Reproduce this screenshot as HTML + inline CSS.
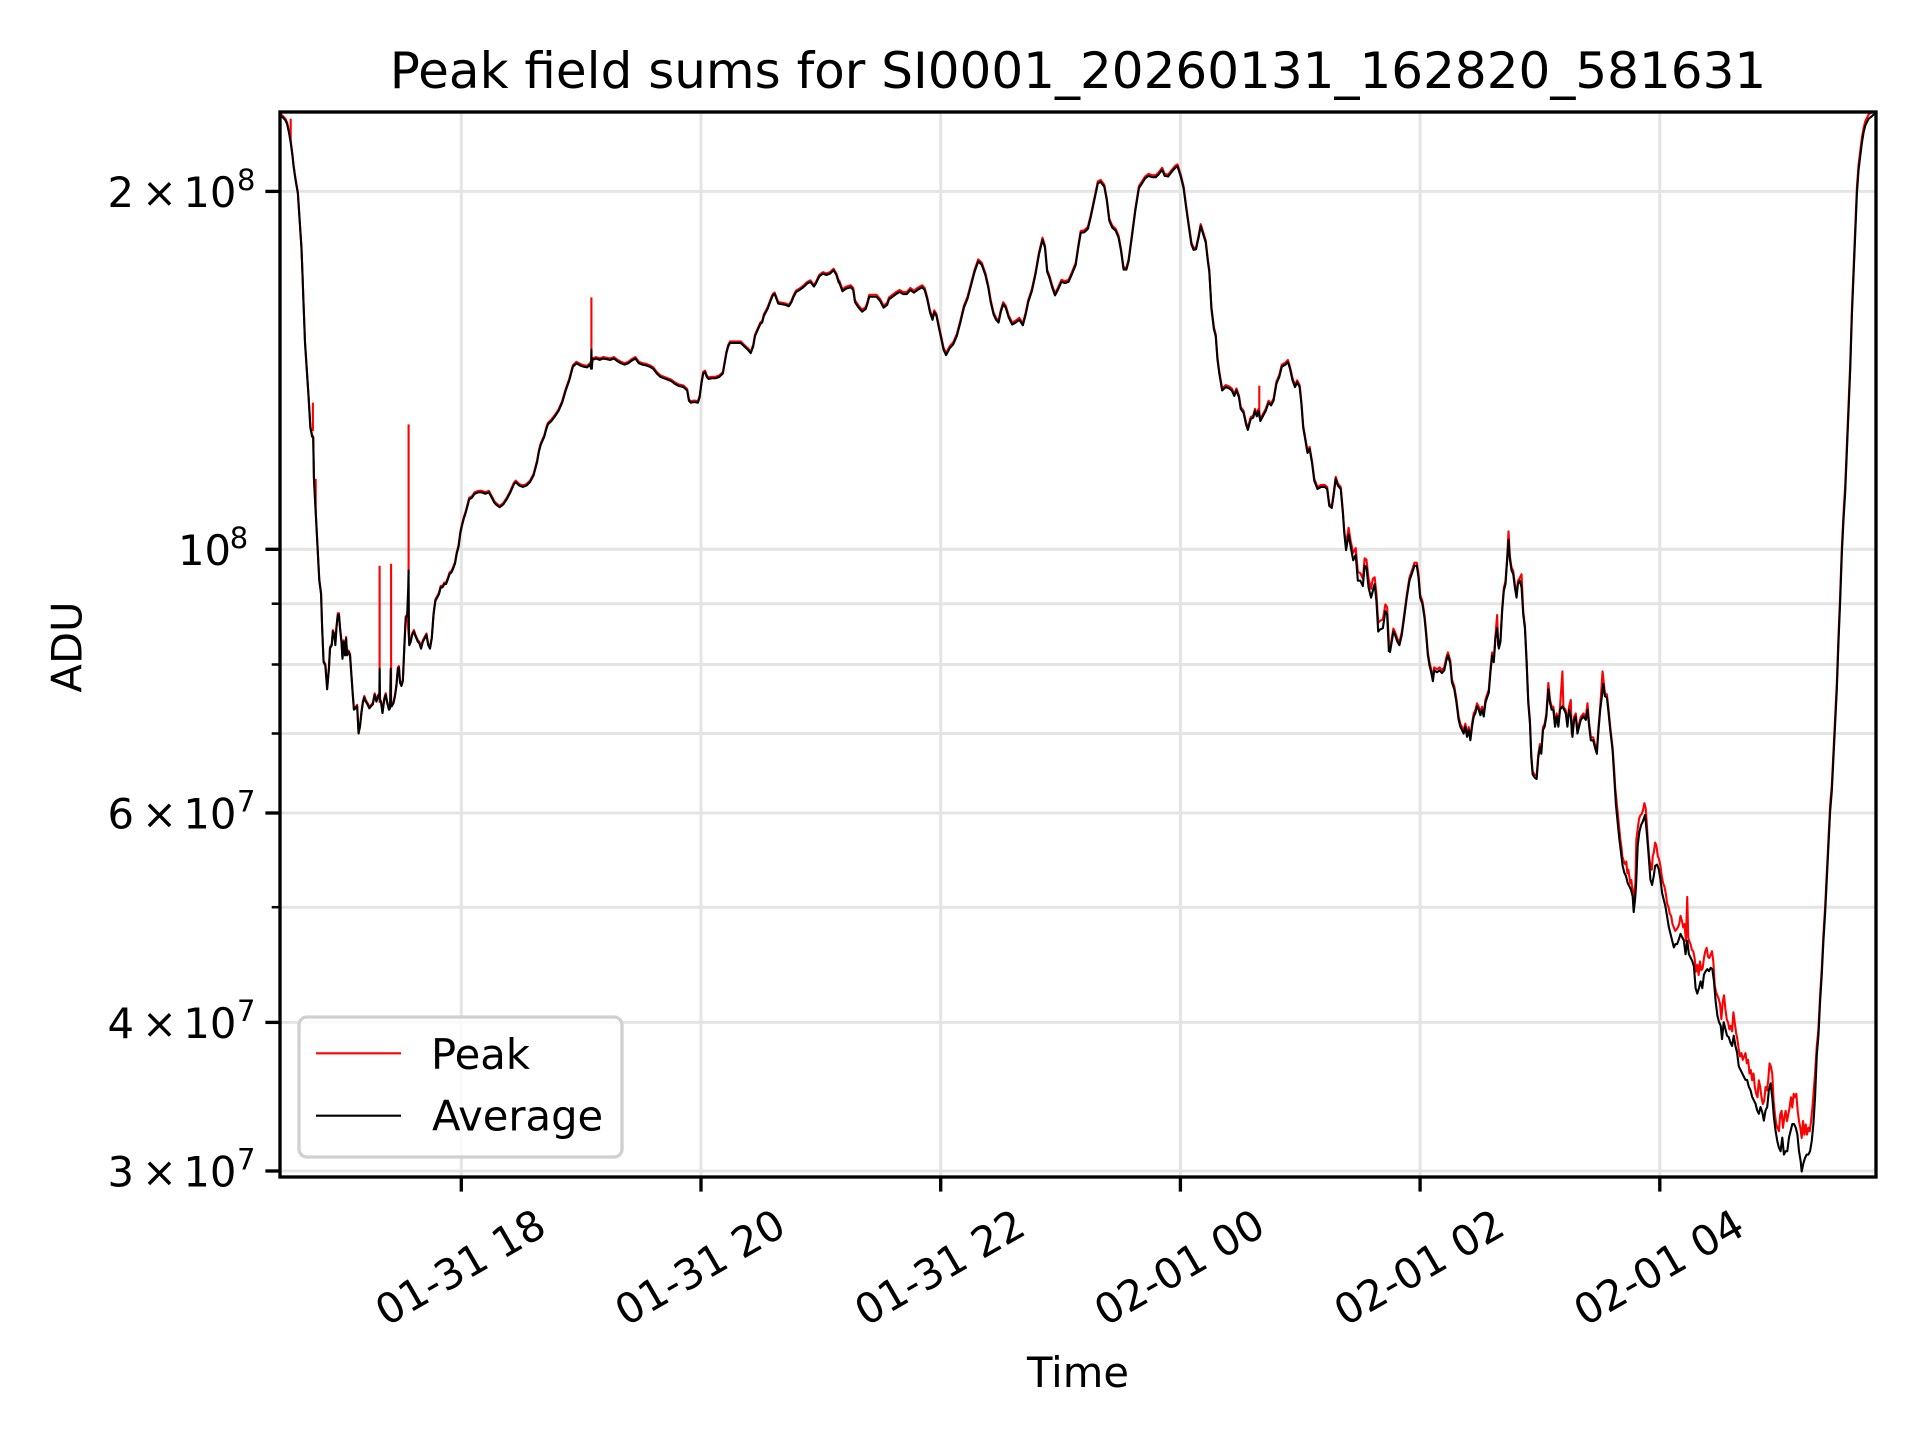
<!DOCTYPE html>
<html>
<head>
<meta charset="utf-8">
<style>
  html,body{margin:0;padding:0;background:#fff;}
  svg{display:block;}
  text{font-family:"DejaVu Sans","Liberation Sans",sans-serif;fill:#000;}
</style>
</head>
<body>
<svg width="1920" height="1440" viewBox="0 0 1920 1440" xmlns="http://www.w3.org/2000/svg">
  <defs>
    <clipPath id="ax"><rect x="280" y="112" width="1596" height="1065"/></clipPath>
  </defs>
  <rect x="0" y="0" width="1920" height="1440" fill="#fff"/>

  <!-- grid -->
  <g stroke="#e4e4e4" stroke-width="3" fill="none">
    <line x1="461.3" y1="112" x2="461.3" y2="1177"/>
    <line x1="701" y1="112" x2="701" y2="1177"/>
    <line x1="940.7" y1="112" x2="940.7" y2="1177"/>
    <line x1="1180.4" y1="112" x2="1180.4" y2="1177"/>
    <line x1="1420.1" y1="112" x2="1420.1" y2="1177"/>
    <line x1="1659.8" y1="112" x2="1659.8" y2="1177"/>
    <line x1="280" y1="191.4" x2="1876" y2="191.4"/>
    <line x1="280" y1="549.3" x2="1876" y2="549.3"/>
    <line x1="280" y1="603.7" x2="1876" y2="603.7"/>
    <line x1="280" y1="664.5" x2="1876" y2="664.5"/>
    <line x1="280" y1="733.5" x2="1876" y2="733.5"/>
    <line x1="280" y1="813" x2="1876" y2="813"/>
    <line x1="280" y1="907.2" x2="1876" y2="907.2"/>
    <line x1="280" y1="1022.4" x2="1876" y2="1022.4"/>
    <line x1="280" y1="1171" x2="1876" y2="1171"/>
  </g>

  <g clip-path="url(#ax)" fill="none" stroke-linejoin="round">
    <!-- PEAK (red) -->
    <g stroke="#ff0000" stroke-width="2.1">
      <g transform="translate(280,110.5) scale(0.357143,0.679209)">
        <polyline vector-effect="non-scaling-stroke" points="0,5 8,8 15,12 20,18 25,30 30,45 35,65 38,80 42,95 45,105 50,120 55,160 60,200 63,240 65,270 70,340 75,380 80,420 85,465 90,478 93,480 95,540 100,590 105,640 110,690 115,710 118,760 122,810 127,815 132,850 137,820 140,790 145,785 148,765 152,770 155,785 158,760 162,740 165,740 168,760 172,780 175,805 178,780 182,800 185,775 188,800 192,795 196,800 200,830 204,860 207,880 212,878 216,875 220,915 224,905 228,885 232,870 236,862 240,868 245,872 250,878 255,875 260,872 265,858 270,868 275,860 283,870 287,885 292,865 296,858 300,870 305,880 313,875 318,870 322,860 326,845 330,820 333,818 336,840 340,845 344,838 348,790 352,745 356,742 362,785 366,780 370,770 375,765 378,770 382,775 386,780 390,782 395,790 400,780 405,775 410,770 415,785 420,790 425,775 430,740 435,720 440,715 445,710 450,700 455,700 460,695 465,695 470,688 475,680 480,678 485,672 490,665 495,650 500,640 505,620 510,608 515,598 520,590 525,580 530,570 537,568 545,562 555,560 565,560 575,562 585,560 590,565 595,570 600,575 605,578 615,582 625,578 635,570 645,560 655,548 660,545 670,550 680,552 690,550 700,545 710,535 715,525 720,515 725,500 730,490 740,478 745,468 750,460 760,455 770,448 780,440 790,428 800,410 810,395 820,375 830,370 840,373 850,375 860,376 868,372 875,365 885,363 895,365 905,363 915,364 925,365 935,363 945,367 955,370 965,372 975,370 985,366 995,363 1005,370 1015,372 1025,373 1035,375 1045,378 1055,385 1065,390 1080,393 1095,396 1105,400 1115,403 1130,405 1140,410 1145,425 1150,428 1160,427 1170,428 1175,420 1180,400 1185,385 1190,383 1195,390 1200,393 1210,392 1220,392 1230,390 1240,385 1245,370 1250,355 1255,345 1260,340 1270,340 1280,340 1290,340 1300,345 1310,350 1318,355 1325,345 1330,330 1340,318 1345,312 1350,310 1355,300 1360,295 1365,290 1370,283 1375,276 1380,270 1385,268 1390,275 1395,282 1405,283 1415,284 1425,286 1432,280 1438,272 1445,265 1455,262 1465,258 1475,253 1485,250 1495,257 1500,253 1510,242 1520,238 1530,240 1540,238 1550,233 1558,240 1565,252"/>
      </g>
      <g transform="translate(830,110) scale(0.357143,0.679209)">
        <polyline vector-effect="non-scaling-stroke" points="25,250 35,264 45,260 58,258 65,262 70,280 80,288 90,294 100,290 105,282 110,272 120,272 130,272 140,278 150,288 160,284 165,276 175,272 185,268 195,265 205,268 215,268 225,262 235,266 245,262 258,258 265,262 272,275 280,295 287,306 292,295 298,300 305,318 312,335 318,350 325,358 335,348 345,342 355,330 365,310 375,288 385,275 395,255 405,235 415,220 425,225 435,240 443,258 450,280 458,298 465,306 472,310 478,295 485,283 492,288 500,302 510,313 520,310 530,306 540,314 548,298 555,280 565,264 575,240 585,210 595,188 602,200 608,235 615,245 622,258 630,270 638,262 648,250 658,252 668,250 678,238 688,225 695,200 702,178 712,177 722,172 730,155 740,130 750,105 758,103 768,110 775,130 782,160 790,170 800,175 808,185 815,205 822,232 830,232 836,220 845,185 855,145 865,112 875,104 882,98 892,94 902,96 912,96 920,92 930,85 937,94 947,95 957,88 967,82 973,80 982,95 990,112 997,140 1005,170 1012,195 1018,203 1025,202 1032,185 1038,168 1045,180 1052,192 1058,220 1062,235 1068,290 1075,320 1080,330 1085,365 1090,385 1098,410 1108,405 1118,407 1125,410 1132,418 1138,410 1145,420 1150,437 1158,443 1165,460 1170,468 1178,452 1185,450 1190,440 1195,448 1200,440 1205,455 1212,448 1220,440 1228,428 1235,432 1242,425 1250,400 1258,390 1265,375 1275,372 1282,368 1288,378 1295,395 1302,405 1308,398 1315,405 1320,430 1325,465 1330,480 1337,502 1343,496 1350,518 1356,543 1365,555 1375,552 1385,552 1392,555 1398,580 1405,583 1410,565 1416,540 1422,550 1430,555 1436,590 1440,620 1445,640 1452,615 1458,635 1465,652 1472,645 1478,680 1485,682 1492,690 1497,660 1502,662 1508,690 1515,705 1520,690 1525,688 1530,712 1535,755 1540,752 1548,750 1555,728 1560,732 1565,785"/>
      </g>
      <g transform="translate(1380,109) scale(0.334672,0.679209)">
        <polyline vector-effect="non-scaling-stroke" points="27,788 30,795 35,780 40,765 45,770 52,780 58,785 65,770 72,745 80,715 88,690 95,680 103,668 110,668 115,685 120,715 127,725 133,745 138,770 143,800 148,815 153,825 158,838 162,822 170,825 178,822 185,826 192,822 198,808 203,800 210,812 215,840 222,850 228,868 235,895 240,905 245,910 250,915 255,905 260,920 265,910 270,925 275,905 280,890 285,885 290,875 295,880 300,888 305,880 310,890 315,870 320,862 325,855 330,825 335,800 340,810 345,775 350,745 353,790 360,780 365,735 370,705 375,695 380,660 384,622 388,658 393,675 398,680 403,700 408,715 412,695 418,690 423,685 428,740 433,760 438,810 443,870 448,900 452,950 456,975 462,980 468,982 473,950 478,935 482,945 487,910 492,905 497,890 503,845 508,870 513,880 518,880 523,905 528,890 533,905 538,880 545,828 548,880 555,885 560,905 565,880 570,870 573,920 580,895 585,890 590,915 595,905 600,895 608,890 615,895 620,875 625,905 630,925 637,925 642,935 648,945 652,915 658,880 665,828 672,860 678,862 683,885 688,910 695,940 700,975"/>
        <polyline vector-effect="non-scaling-stroke" points="700,975 703,1000 706,1015 709,1030 712,1045 715,1060 718,1075 721,1085 724,1100 727,1105 730,1110 733,1112 736,1108 739,1125 742,1120 745,1130 748,1140 751,1135 754,1150 757,1165 760,1150 763,1140 766,1075 770,1060 774,1045 778,1040 782,1038 786,1032 790,1022 794,1030 797,1050 800,1075 804,1100 808,1115 812,1120 815,1100 818,1095 822,1080 826,1085 830,1100 834,1105 838,1115 842,1130 846,1140 850,1145 854,1155 858,1170 862,1175 866,1185 870,1188 874,1200 878,1205 882,1210 886,1208 890,1205 894,1200 898,1188 902,1195 906,1205 910,1200 914,1225 918,1160 921,1220 924,1225 928,1230 932,1238 936,1240 940,1250 944,1270 948,1260 952,1275 956,1255 960,1268 964,1265 968,1250 972,1240 976,1235 980,1248 984,1250 988,1245 992,1240 996,1255 1000,1290 1004,1300 1008,1305 1012,1310 1016,1318 1020,1340 1024,1315 1028,1305 1032,1325 1036,1340 1040,1345 1044,1355 1048,1350 1052,1358 1056,1330 1060,1345 1064,1360 1068,1370 1072,1385 1076,1395 1080,1390 1084,1400 1088,1395 1092,1390 1096,1405 1100,1400 1104,1420 1108,1415 1112,1430 1116,1420 1120,1440 1124,1450 1128,1455 1132,1430 1136,1440 1140,1455 1144,1465 1148,1460 1152,1440 1156,1445 1160,1430 1164,1405 1168,1410 1172,1420 1176,1460 1180,1480 1184,1495 1188,1500 1192,1505 1196,1480 1200,1475 1204,1500 1208,1485 1212,1475 1216,1490 1220,1480 1224,1470 1228,1455 1232,1470 1236,1450 1240,1455 1244,1450 1248,1475 1252,1490 1256,1500 1260,1515 1264,1490 1268,1510 1272,1495 1276,1510 1280,1500 1284,1505 1288,1490 1292,1470 1296,1445 1300,1420 1305,1380 1310,1355 1315,1305 1320,1265 1325,1215 1330,1175 1335,1125 1340,1075 1345,1025 1350,995 1355,945 1360,895 1365,845 1370,775 1375,715 1380,645 1385,595 1390,555 1395,495 1400,435 1405,375 1410,295 1415,235 1420,175 1425,115 1430,82 1435,62 1440,42 1445,28 1450,18 1460,8 1475,3 1494,1"/>
      </g>
      <!-- spikes -->
      <line x1="290.7" y1="118.8" x2="290.7" y2="142.6"/>
      <line x1="312.9" y1="402.7" x2="312.9" y2="431"/>
      <line x1="315.7" y1="478.8" x2="315.7" y2="512.7"/>
      <line x1="379.6" y1="565.7" x2="379.6" y2="702.9"/>
      <line x1="391.1" y1="563.7" x2="391.1" y2="706.3"/>
      <line x1="408.6" y1="424.4" x2="408.6" y2="573.8"/>
      <line x1="591.4" y1="297.4" x2="591.4" y2="360"/>
      <line x1="1259.3" y1="385.7" x2="1259.3" y2="417.6"/>
    </g>

    <!-- AVERAGE (black) -->
    <g stroke="#000000" stroke-width="2.1">
      <g transform="translate(280,112) scale(0.357143,0.679209)">
        <polyline vector-effect="non-scaling-stroke" points="0,5 8,8 15,12 20,18 25,30 30,45 35,65 38,80 42,95 45,105 50,120 55,160 60,200 63,240 65,270 70,340 75,380 80,420 85,465 90,478 93,480 95,540 100,590 105,640 110,690 115,710 118,760 122,810 127,815 132,850 137,820 140,790 145,785 148,765 152,770 155,785 158,760 162,740 165,740 168,760 172,780 175,805 178,780 182,800 185,775 188,800 192,795 196,800 200,830 204,860 207,880 212,878 216,875 220,915 224,905 228,885 232,870 236,862 240,868 245,872 250,878 255,875 260,872 265,858 270,868 275,860 278,862 279,820 280,865 283,870 287,885 292,865 296,858 300,870 305,880 308,878 310,820 311,875 313,875 318,870 322,860 326,845 330,820 333,818 336,840 340,845 344,838 348,790 352,745 356,742 359,700 360,675 361,760 362,785 366,780 370,770 375,765 378,770 382,775 386,780 390,782 395,790 400,780 405,775 410,770 415,785 420,790 425,775 430,740 435,720 440,715 445,710 450,700 455,700 460,695 465,695 470,688 475,680 480,678 485,672 490,665 495,650 500,640 505,620 510,608 515,598 520,590 525,580 530,570 537,568 545,562 555,560 565,560 575,562 585,560 590,565 595,570 600,575 605,578 615,582 625,578 635,570 645,560 655,548 660,545 670,550 680,552 690,550 700,545 710,535 715,525 720,515 725,500 730,490 740,478 745,468 750,460 760,455 770,448 780,440 790,428 800,410 810,395 820,375 830,370 840,373 850,375 860,376 868,372 871,378 872,350 873,378 875,365 885,363 895,365 905,363 915,364 925,365 935,363 945,367 955,370 965,372 975,370 985,366 995,363 1005,370 1015,372 1025,373 1035,375 1045,378 1055,385 1065,390 1080,393 1095,396 1105,400 1115,403 1130,405 1140,410 1145,425 1150,428 1160,427 1170,428 1175,420 1180,400 1185,385 1190,383 1195,390 1200,393 1210,392 1220,392 1230,390 1240,385 1245,370 1250,355 1255,345 1260,340 1270,340 1280,340 1290,340 1300,345 1310,350 1318,355 1325,345 1330,330 1340,318 1345,312 1350,310 1355,300 1360,295 1365,290 1370,283 1375,276 1380,270 1385,268 1390,275 1395,282 1405,283 1415,284 1425,286 1432,280 1438,272 1445,265 1455,262 1465,258 1475,253 1485,250 1495,257 1500,253 1510,242 1520,238 1530,240 1540,238 1550,233 1558,240 1565,252"/>
      </g>
      <g transform="translate(830,112) scale(0.357143,0.679209)">
        <polyline vector-effect="non-scaling-stroke" points="25,250 35,264 45,260 58,258 65,262 70,280 80,288 90,294 100,290 105,282 110,272 120,272 130,272 140,278 150,288 160,284 165,276 175,272 185,268 195,265 205,268 215,268 225,262 235,266 245,262 258,258 265,262 272,275 280,295 287,306 292,295 298,300 305,318 312,335 318,350 325,358 335,348 345,342 355,330 365,310 375,288 385,275 395,255 405,235 415,220 425,225 435,240 443,258 450,280 458,298 465,306 472,310 478,295 485,283 492,288 500,302 510,313 520,310 530,306 540,314 548,298 555,280 565,264 575,240 585,210 595,188 602,200 608,235 615,245 622,258 630,270 638,262 648,250 658,252 668,250 678,238 688,225 695,200 702,178 712,177 722,172 730,155 740,130 750,105 758,103 768,110 775,130 782,160 790,170 800,175 808,185 815,205 822,232 830,232 836,220 845,185 855,145 865,112 875,104 882,98 892,94 902,96 912,96 920,92 930,85 937,94 947,95 957,88 967,82 973,80 982,95 990,112 997,140 1005,170 1012,195 1018,203 1025,202 1032,185 1038,168 1045,180 1052,192 1058,220 1062,235 1068,290 1075,320 1080,330 1085,365 1090,385 1098,410 1108,405 1118,407 1125,410 1132,418 1138,410 1145,420 1150,437 1158,443 1165,460 1170,468 1178,452 1185,450 1190,440 1195,448 1200,440 1205,455 1212,448 1220,440 1228,428 1235,432 1242,425 1250,400 1258,390 1265,375 1275,372 1282,368 1288,378 1295,395 1302,405 1308,398 1315,405 1320,430 1325,465 1330,480 1337,502 1343,496 1350,518 1356,543 1365,555 1375,552 1385,552 1392,555 1398,580 1405,583 1410,565 1416,540 1422,550 1430,555 1436,590 1440,620 1445,645 1452,622 1458,640 1465,660 1472,652 1478,690 1485,690 1492,698 1497,668 1502,670 1508,700 1515,715 1520,705 1525,695 1530,720 1535,765 1540,762 1548,760 1555,735 1560,740 1565,795"/>
      </g>
      <g transform="translate(1380,112) scale(0.334672,0.679209)">
        <polyline vector-effect="non-scaling-stroke" points="27,788 30,795 35,780 40,765 45,770 52,780 58,785 65,770 72,745 80,715 88,690 95,680 103,668 110,668 115,685 120,715 127,725 133,745 138,770 143,800 148,815 153,825 158,838 162,822 170,825 178,822 185,826 192,822 198,808 203,800 210,812 215,840 222,850 228,868 235,895 240,905 245,910 250,915 255,905 260,920 265,910 270,925 275,905 280,890 285,885 290,875 295,880 300,888 305,880 310,890 315,870 320,862 325,855 330,825 335,800 340,810 345,775 350,760 355,790 360,780 365,735 370,705 375,695 380,660 384,630 388,658 393,675 398,680 403,700 408,715 412,695 418,690 423,700 428,740 433,760 438,810 443,870 448,900 452,950 456,975 462,980 468,982 473,950 478,935 482,945 487,910 492,905 497,890 503,850 508,870 513,880 518,880 523,905 528,890 533,905 538,880 545,875 550,880 555,885 560,905 565,880 570,890 575,920 580,895 585,890 590,915 595,905 600,895 608,890 615,895 620,880 625,905 630,925 637,925 642,935 648,945 652,915 658,880 663,860 667,842 672,860 678,862 683,885 688,910 695,940 700,980 705,1020 710,1045 715,1070 720,1090 725,1110 730,1120 735,1125 740,1135 745,1140 750,1145 755,1155 758,1178 762,1160 765,1140 770,1080 775,1060 780,1050 785,1045 792,1035 797,1060 802,1090 808,1130 813,1138 818,1125 822,1110 828,1108 833,1115 838,1130 843,1150 848,1160 853,1170 858,1185 863,1200 868,1210 873,1220 878,1230 883,1225 888,1225 893,1218 898,1210 903,1215 908,1220 913,1240 918,1220 923,1240 928,1245 933,1250 938,1258 943,1290 948,1298 953,1290 958,1280 963,1290 968,1270 973,1265 978,1262 983,1265 988,1260 993,1262 998,1280 1003,1310 1008,1330 1013,1340 1018,1345 1022,1365 1027,1340 1032,1350 1037,1360 1042,1362 1047,1370 1052,1375 1057,1360 1062,1375 1067,1385 1072,1405 1077,1410 1082,1415 1087,1420 1092,1425 1097,1425 1102,1435 1107,1440 1112,1450 1117,1455 1122,1460 1127,1470 1132,1475 1137,1465 1142,1472 1147,1485 1152,1470 1157,1465 1162,1440 1167,1430 1172,1450 1177,1480 1182,1500 1187,1515 1192,1525 1197,1530 1202,1510 1207,1535 1212,1530 1217,1530 1222,1510 1227,1500 1232,1490 1237,1490 1242,1495 1247,1505 1252,1530 1257,1545 1260,1560 1265,1548 1270,1540 1275,1535 1280,1535 1285,1530 1290,1515 1295,1490 1300,1450 1305,1390 1310,1360 1315,1310 1320,1270 1325,1220 1330,1180 1335,1130 1340,1080 1345,1030 1350,1000 1355,950 1360,900 1365,850 1370,780 1375,720 1380,650 1385,600 1390,560 1395,500 1400,440 1405,380 1410,300 1415,240 1420,180 1425,120 1430,85 1435,65 1440,45 1445,30 1450,20 1460,10 1475,4 1494,2"/>
      </g>
    </g>
  </g>

  <!-- legend -->
  <rect x="299" y="1017" width="323" height="140" rx="8" ry="8" fill="#ffffff" fill-opacity="0.8" stroke="#d0d0d0" stroke-width="3.3"/>
  <line x1="316" y1="1053.3" x2="401" y2="1053.3" stroke="#ff0000" stroke-width="2.1"/>
  <line x1="316" y1="1115.7" x2="401" y2="1115.7" stroke="#000000" stroke-width="2.1"/>
  <text x="431" y="1069" font-size="41.7">Peak</text>
  <text x="432" y="1130.5" font-size="41.7">Average</text>

  <!-- axes frame -->
  <rect x="280" y="112" width="1596" height="1065" fill="none" stroke="#000" stroke-width="3.33"/>

  <!-- y ticks -->
  <g stroke="#000" stroke-width="3.33">
    <line x1="265.4" y1="191.4" x2="280" y2="191.4"/>
    <line x1="265.4" y1="549.3" x2="280" y2="549.3"/>
    <line x1="265.4" y1="813" x2="280" y2="813"/>
    <line x1="265.4" y1="1022.4" x2="280" y2="1022.4"/>
    <line x1="265.4" y1="1171" x2="280" y2="1171"/>
  </g>
  <g stroke="#000" stroke-width="2.5">
    <line x1="271.7" y1="603.7" x2="280" y2="603.7"/>
    <line x1="271.7" y1="664.5" x2="280" y2="664.5"/>
    <line x1="271.7" y1="733.5" x2="280" y2="733.5"/>
    <line x1="271.7" y1="907.2" x2="280" y2="907.2"/>
  </g>
  <!-- x ticks -->
  <g stroke="#000" stroke-width="3.33">
    <line x1="461.3" y1="1177" x2="461.3" y2="1191.6"/>
    <line x1="701" y1="1177" x2="701" y2="1191.6"/>
    <line x1="940.7" y1="1177" x2="940.7" y2="1191.6"/>
    <line x1="1180.4" y1="1177" x2="1180.4" y2="1191.6"/>
    <line x1="1420.1" y1="1177" x2="1420.1" y2="1191.6"/>
    <line x1="1659.8" y1="1177" x2="1659.8" y2="1191.6"/>
  </g>

  <!-- y tick labels -->
  <g font-size="41.7">
    <text x="107.5" y="206.9">2</text><text x="142" y="206.9">×</text><text x="183.4" y="206.9">10</text><text x="237" y="189.9" font-size="29">8</text>
    <text x="178" y="564.8">10</text><text x="229.8" y="547.8" font-size="29">8</text>
    <text x="107.5" y="828.5">6</text><text x="142" y="828.5">×</text><text x="183.4" y="828.5">10</text><text x="237" y="811.5" font-size="29">7</text>
    <text x="107.5" y="1037.9">4</text><text x="142" y="1037.9">×</text><text x="183.4" y="1037.9">10</text><text x="237" y="1020.9" font-size="29">7</text>
    <text x="107.5" y="1186.5">3</text><text x="142" y="1186.5">×</text><text x="183.4" y="1186.5">10</text><text x="237" y="1169.5" font-size="29">7</text>
  </g>

  <!-- x tick labels -->
  <g font-size="41.7" text-anchor="middle">
    <text transform="translate(460,1267) rotate(-30)" x="0" y="15">01-31 18</text>
    <text transform="translate(699.7,1267) rotate(-30)" x="0" y="15">01-31 20</text>
    <text transform="translate(939.4,1267) rotate(-30)" x="0" y="15">01-31 22</text>
    <text transform="translate(1179.1,1267) rotate(-30)" x="0" y="15">02-01 00</text>
    <text transform="translate(1418.8,1267) rotate(-30)" x="0" y="15">02-01 02</text>
    <text transform="translate(1658.5,1267) rotate(-30)" x="0" y="15">02-01 04</text>
  </g>

  <!-- axis labels -->
  <text x="1078" y="1387" font-size="41.7" text-anchor="middle">Time</text>
  <text transform="translate(81.5,647) rotate(-90)" x="0" y="0" font-size="41.7" text-anchor="middle">ADU</text>

  <!-- title -->
  <text x="1078" y="88" font-size="50" text-anchor="middle">Peak field sums for SI0001_20260131_162820_581631</text>
</svg>
</body>
</html>
